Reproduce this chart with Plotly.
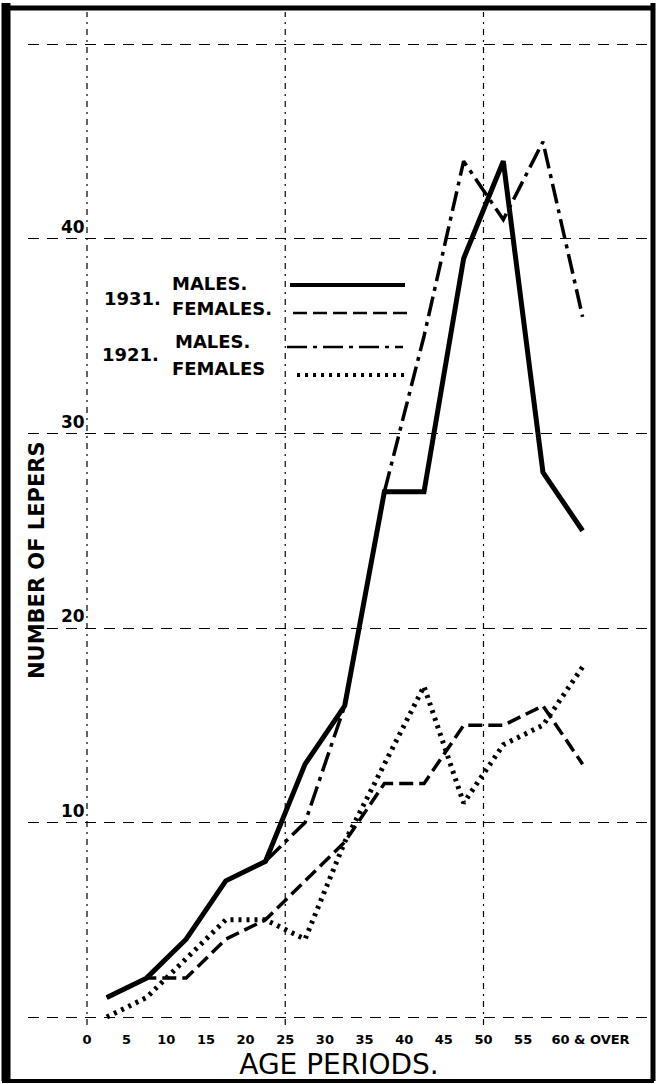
import plotly.graph_objects as go

# Age groups (mid-points of the five-year periods; last group is "60 & over")
age_mid = [2.5, 7.5, 12.5, 17.5, 22.5, 27.5, 32.5, 37.5, 42.5, 47.5, 52.5, 57.5, 62.5]

# Number of lepers per age period
males_1931 = [1, 2, 4, 7, 8, 13, 16, 27, 27, 39, 44, 28, 25]
females_1931 = [1, 2, 2, 4, 5, 7, 9, 12, 12, 15, 15, 16, 13]
males_1921 = [1, 2, 4, 7, 8, 10, 16, 27, 35, 44, 41, 45, 36]
females_1921 = [0, 1, 3, 5, 5, 4, 9, 13, 17, 11, 14, 15, 18]

x_tick_vals = [0, 5, 10, 15, 20, 25, 30, 35, 40, 45, 50, 55, 63.5]
x_tick_text = ["0", "5", "10", "15", "20", "25", "30", "35", "40", "45", "50", "55", "60 & OVER"]
y_tick_vals = [0, 10, 20, 30, 40, 50]
y_tick_text = ["", "10", "20", "30", "40", ""]

W, H = 656, 1084
L, R, T, B = 28, 650, 12, 1025


def px_x(px):
    return (px - L) / (R - L)


def px_y(py):
    return (B - py) / (B - T)


INK = "#000000"
FONT = "DejaVu Sans"

styles = {
    "1931 Males": dict(color=INK, width=5),
    "1931 Females": dict(color=INK, width=3.5, dash="14px,6px"),
    "1921 Males": dict(color=INK, width=3.5, dash="20px,6px,4px,6px"),
    "1921 Females": dict(color=INK, width=5, dash="3px,5px"),
}
series = {
    "1931 Males": males_1931,
    "1931 Females": females_1931,
    "1921 Males": males_1921,
    "1921 Females": females_1921,
}

fig = go.Figure()
for name in ["1921 Females", "1931 Females", "1921 Males", "1931 Males"]:
    fig.add_trace(go.Scatter(
        x=age_mid, y=series[name], mode="lines", name=name,
        line=styles[name], showlegend=False, hoverinfo="x+y+name",
    ))

shapes = []
# vertical grid lines
for xv in [0, 25, 50]:
    shapes.append(dict(type="line", xref="x", yref="paper", x0=xv, x1=xv, y0=0, y1=1,
                       line=dict(color=INK, width=1.2, dash="6px,5px,2px,5px"), layer="below"))

# legend keys
keys = [
    (290, 405, 285, styles["1931 Males"]),
    (293, 410, 313, styles["1931 Females"]),
    (287, 403, 347, styles["1921 Males"]),
    (297, 405, 375, styles["1921 Females"]),
]
for x0, x1, yy, st in keys:
    shapes.append(dict(type="line", xref="paper", yref="paper",
                       x0=px_x(x0), x1=px_x(x1), y0=px_y(yy), y1=px_y(yy),
                       line=dict(color=INK, width=st["width"] - 1, dash=st.get("dash", "solid"))))

# frame around the sheet
frame = [
    (6, 3, 6, 1081, 9),
    (2, 8, 654, 8, 5),
    (653, 3, 653, 1081, 5),
    (2, 1081, 654, 1081, 4),
]
for x0, y0, x1, y1, w in frame:
    shapes.append(dict(type="line", xref="paper", yref="paper",
                       x0=px_x(x0), x1=px_x(x1), y0=px_y(y0), y1=px_y(y1),
                       line=dict(color=INK, width=w)))

annotations = []
legend_text = [
    ("1931.", 102, 298),
    ("MALES.", 170, 283),
    ("FEMALES.", 170, 309),
    ("1921.", 100, 354),
    ("MALES.", 173, 342),
    ("FEMALES", 170, 368),
]
for txt, xx, yy in legend_text:
    annotations.append(dict(text=txt, xref="paper", yref="paper", x=px_x(xx), y=px_y(yy),
                            xanchor="left", yanchor="middle", showarrow=False,
                            font=dict(family=FONT, size=18, color=INK, weight="bold")))

annotations.append(dict(text="NUMBER OF LEPERS", xref="paper", yref="paper",
                        x=px_x(37), y=px_y(560), textangle=-90, showarrow=False,
                        xanchor="center", yanchor="middle",
                        font=dict(family=FONT, size=21, color=INK, weight="bold")))

fig.update_layout(
    width=W, height=H,
    margin=dict(l=L, r=W - R, t=T, b=H - B, pad=0),
    paper_bgcolor="white", plot_bgcolor="white",
    shapes=shapes, annotations=annotations,
    xaxis=dict(
        range=[-7.44, 71.0], tickmode="array", tickvals=x_tick_vals, ticktext=x_tick_text,
        showgrid=False, zeroline=False, showline=False, ticks="",
        tickfont=dict(family=FONT, size=13, color=INK, weight="bold"),
        ticklabelstandoff=5,
        title=dict(text="AGE PERIODS.", font=dict(family=FONT, size=28, color=INK), standoff=8),
    ),
    yaxis=dict(
        range=[-0.41, 51.67], tickmode="array", tickvals=y_tick_vals, ticktext=y_tick_text,
        showgrid=True, gridcolor=INK, gridwidth=1.2, griddash="11px,8px",
        zeroline=False, showline=False, ticks="",
        ticklabelposition="inside top", ticklabelstandoff=30,
        tickfont=dict(family=FONT, size=17, color=INK, weight="bold"),
    ),
)

fig.write_html("out.html")
